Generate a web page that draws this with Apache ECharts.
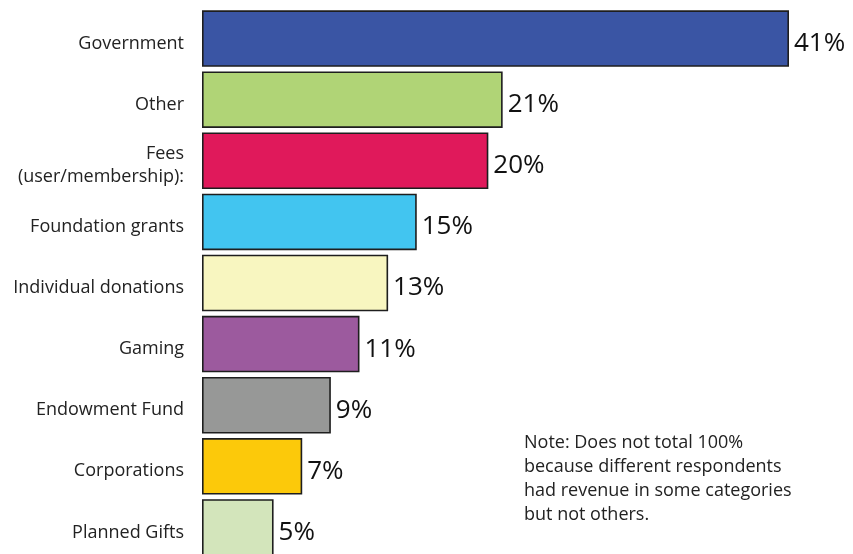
<!DOCTYPE html>
<html><head><meta charset="utf-8">
<script src="https://cdn.jsdelivr.net/npm/echarts@6/dist/echarts.min.js"></script>
<style>html,body{margin:0;padding:0;background:#fff}#c{width:853px;height:554px}</style>
</head><body><div id="c"></div>
<script>
const categories = ["Government","Other","Fees\n(user/membership):","Foundation grants","Individual donations","Gaming","Endowment Fund","Corporations","Planned Gifts"];
const values = [41,21,20,15,13,11,9,7,5];
const colors = ["#3a55a4","#b0d476","#e0195b","#42c5f0","#f8f6c0","#9c5a9e","#979897","#fcc90a","#d3e5bb"];
const noteLines = ["Note: Does not total 100%","because different respondents","had revenue in some categories","but not others."];

const chart = echarts.init(document.getElementById('c'));
const FONT = "Open Sans";
chart.setOption({
  animation:false,
  backgroundColor:'#fff',
  grid:{left:202,right:64,top:8,height:550,containLabel:false,outerBoundsMode:'none'},
  xAxis:{type:'value',min:0,max:41,show:false},
  yAxis:{type:'category',inverse:true,data:categories,
    axisLine:{show:false},axisTick:{show:false},
    axisLabel:{margin:18,color:'#222',fontSize:18,fontFamily:FONT,lineHeight:23,align:'right',
      formatter:v=>'{s| }\n'+v.split('\n').map(l=>'{a|'+l+'}').join('\n'),
      rich:{s:{fontSize:1,lineHeight:10},a:{fontSize:18,lineHeight:23,fontFamily:FONT,color:'#222'}}}},
  series:[{type:'bar',barCategoryGap:'7.5%',
    data:values.map((v,i)=>({value:v,itemStyle:{color:colors[i]}})),
    itemStyle:{borderColor:'#1e1e1e',borderWidth:1.6},
    label:{show:true,position:'right',distance:5,offset:[0,5],formatter:'{c}%',color:'#111',fontSize:26,fontFamily:FONT}
  }],
  graphic:[{type:'text',left:524,top:431,style:{text:noteLines.join('\n'),fontSize:18,lineHeight:24,fill:'#222',fontFamily:FONT}}]
});
</script></body></html>
